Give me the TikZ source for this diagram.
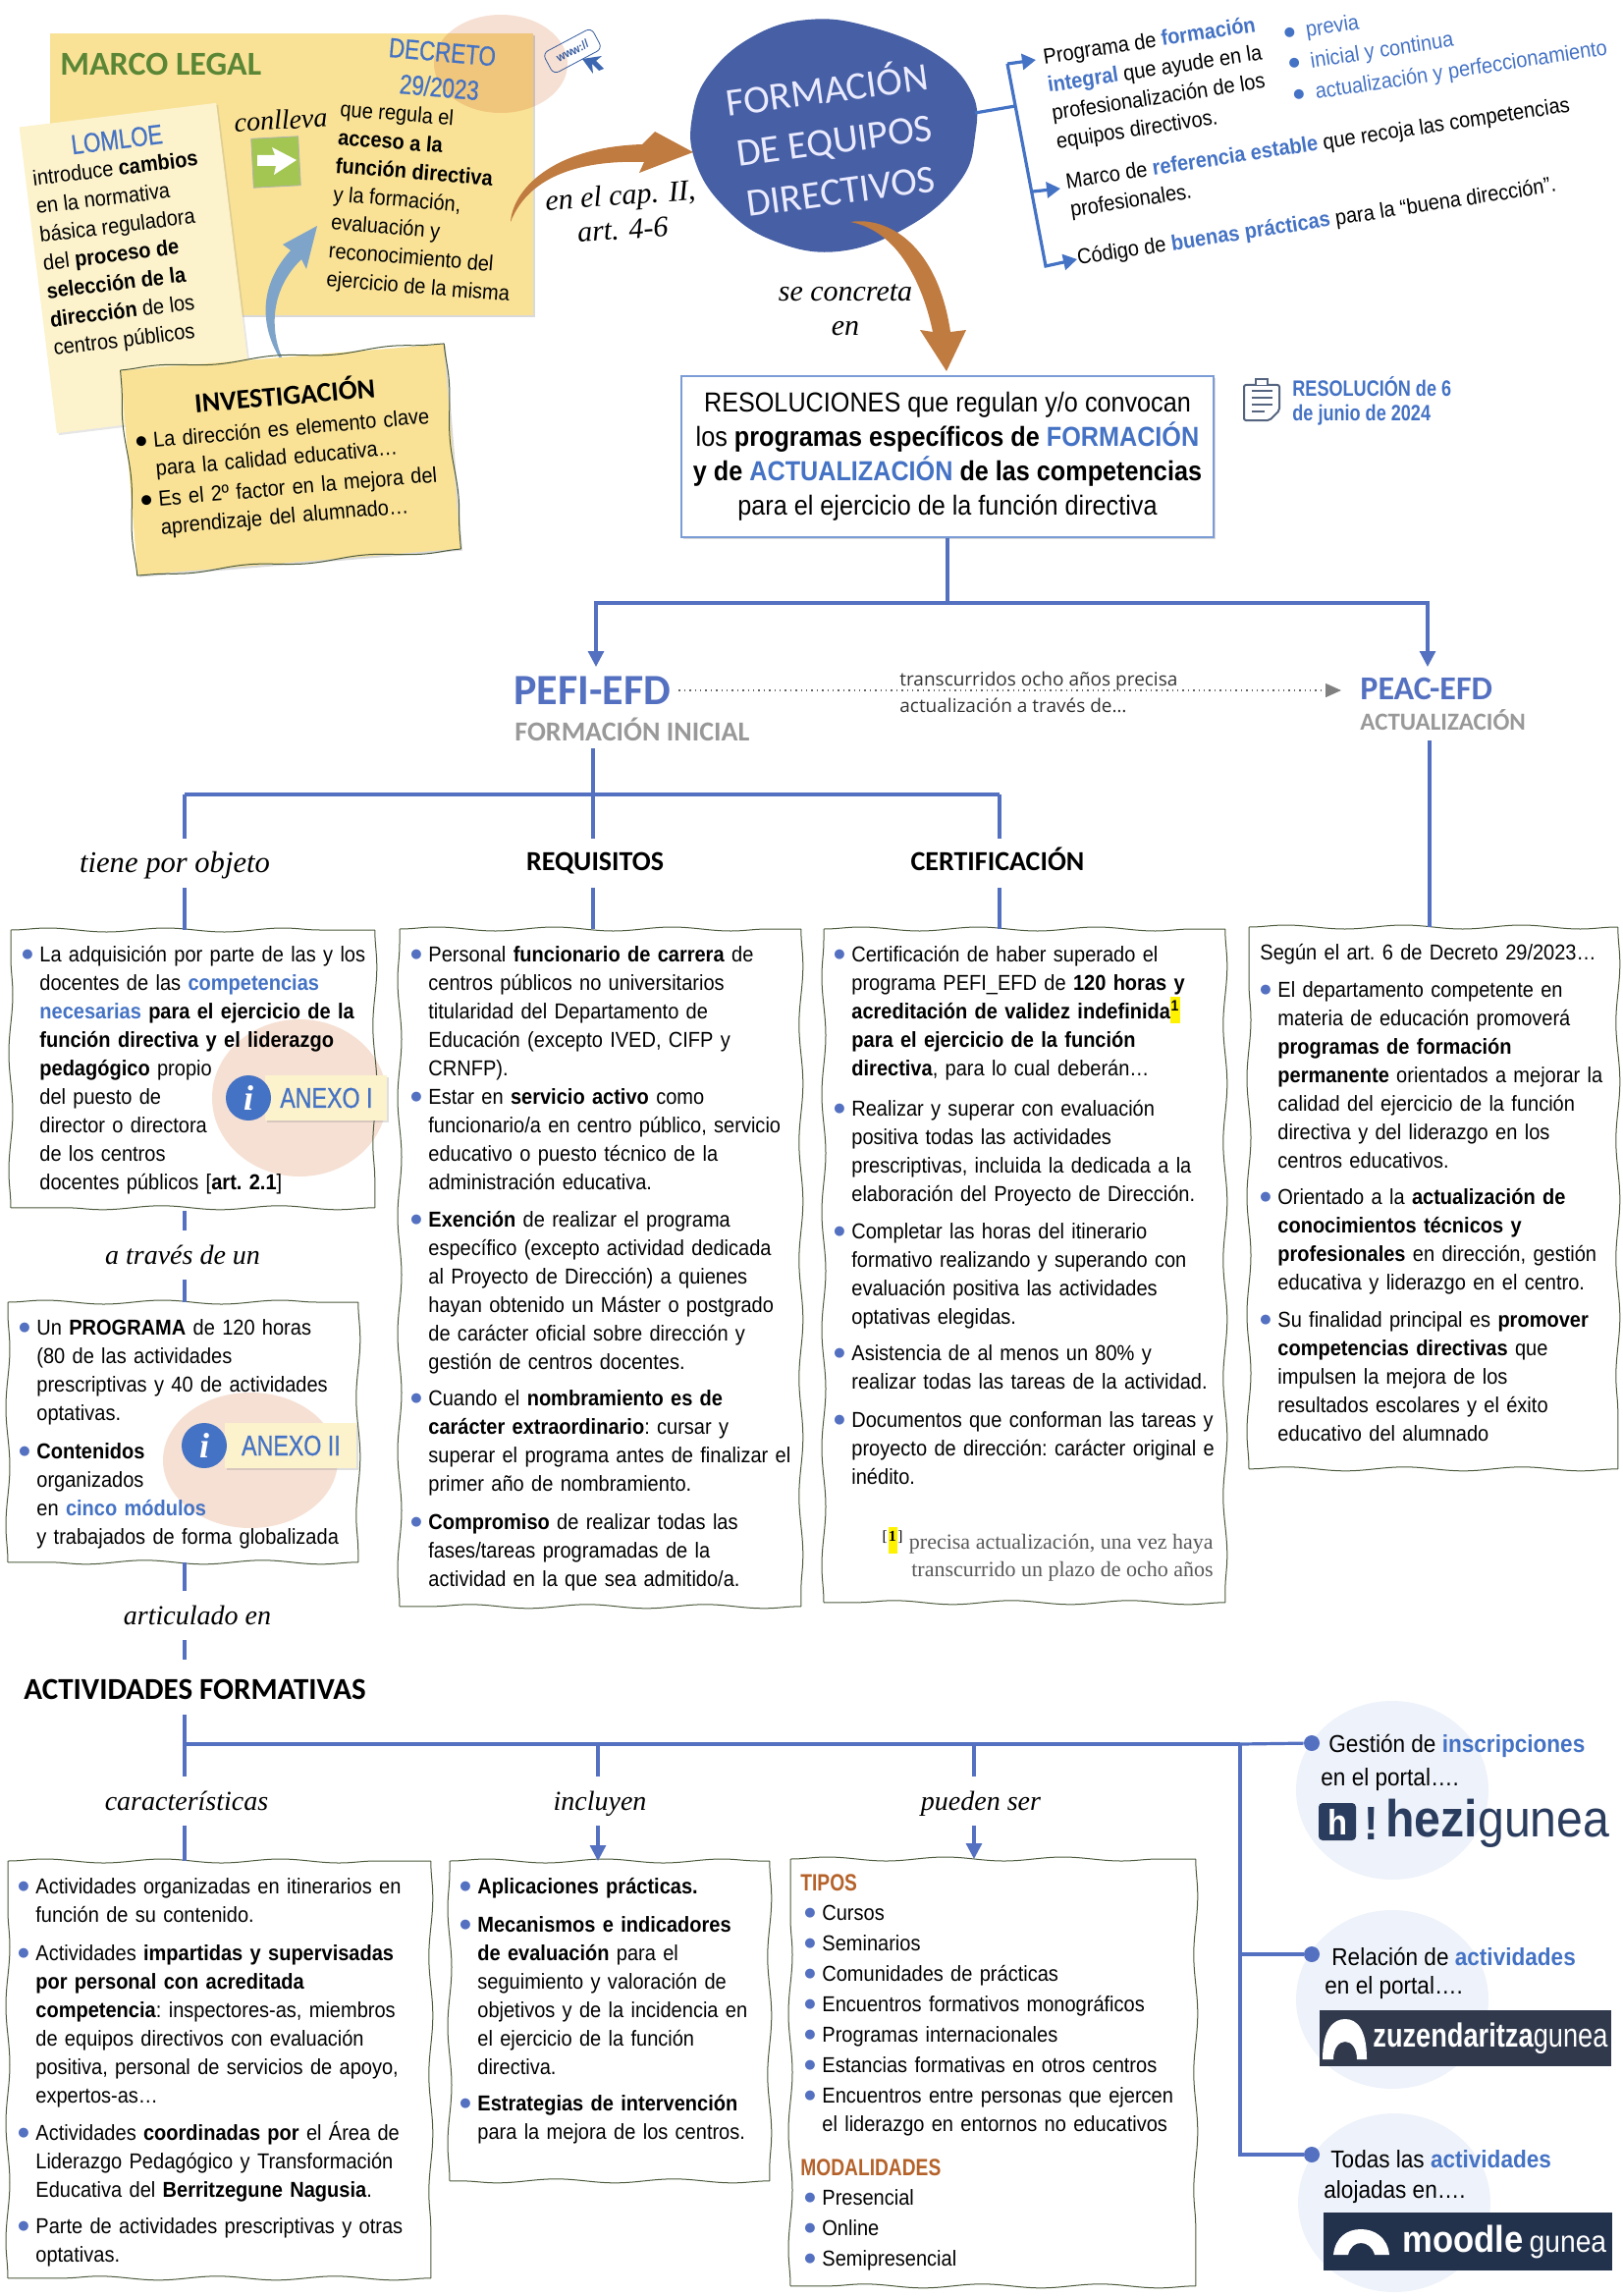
\documentclass[tikz,border=0pt]{standalone}
\usepackage{fontspec}
\setmainfont[FakeStretch=0.91]{Liberation Sans}
\newfontfamily\narrowfont[FakeStretch=0.8]{Liberation Sans}
\newfontfamily\medfont[FakeStretch=0.8,FakeBold=0.6]{Liberation Sans}
\newfontfamily\resolfont[FakeStretch=0.9]{Liberation Sans}
\newfontfamily\timesfont{Liberation Serif}
\newfontfamily\headfont{Carlito}
\newfontfamily\opensans{Open Sans}
\newfontfamily\dejavufont{DejaVu Sans}
\usetikzlibrary{arrows.meta,positioning,shadows,decorations.pathmorphing,calc}

\definecolor{lineblue}{HTML}{5470C0}
\definecolor{hlblue}{HTML}{4472C4}
\definecolor{blobblue}{HTML}{465FA5}
\definecolor{boxline}{HTML}{4C5A3C}
\definecolor{paper}{HTML}{F9E296}
\definecolor{paperpale}{HTML}{FCF2CC}
\definecolor{salmon}{HTML}{F6E0D3}
\definecolor{swooshbrown}{HTML}{C07B40}
\definecolor{swooshblue}{HTML}{7FA4C9}
\definecolor{headbrown}{HTML}{B5622A}
\definecolor{marcogreen}{HTML}{5B8636}
\definecolor{haze}{HTML}{EEF2FA}
\definecolor{navy}{HTML}{2B3D5F}
\colorlet{bulcol}{lineblue}

\newlength{\bulw}
\setlength{\bulw}{9pt}
\newcommand{\bodyfont}{\fontsize{11}{14.5}\selectfont\frenchspacing}
\newcommand{\hlb}[1]{\textcolor{hlblue}{\textbf{#1}}}
\newcommand{\blt}{\raisebox{2pt}{\dejavufont\fontsize{6.5}{6.5}\selectfont ●}}
\newcommand{\bul}[1][0pt]{\par\vspace{#1}\let\\\newline\hangindent=\bulw\hangafter=1\noindent\hbox to\bulw{\textcolor{bulcol}{\blt}\hfil}\strut\ignorespaces}
\newcommand{\hlsup}[1]{{\fboxsep=0.2pt\colorbox{yellow}{\rule[-2pt]{0pt}{13pt}\textsuperscript{\textbf{#1}}}}}
\newcommand{\wavyframe}[1]{\draw[wavyline] decorate {(#1.north west) -- (#1.north east)} decorate {(#1.north east) -- (#1.south east)} decorate {(#1.south east) -- (#1.south west)} decorate {(#1.south west) -- (#1.north west)};}

\tikzset{
  wavyline/.style={draw=boxline, line width=0.5pt, line join=round, decoration={snake, segment length=60pt, amplitude=1pt}},
  wavybox/.style={anchor=north west, inner sep=0pt},
  listtext/.style={anchor=north west, inner sep=0pt, align=left, text width=212pt, font=\bodyfont},
  plaintext/.style={inner sep=0pt, align=left, font=\bodyfont},
  linklabel/.style={inner sep=0pt, minimum height=25pt, text height=12pt, text depth=3pt, font=\timesfont\itshape\fontsize{14}{16}\selectfont},
  freelabel/.style={inner sep=0pt, align=center, font=\timesfont\itshape\fontsize{15}{17.5}\selectfont},
  secthead/.style={inner sep=0pt, minimum height=25pt, text height=10.5pt, text depth=3pt, font=\headfont\bfseries\fontsize{14}{15}\selectfont},
  bluelink/.style={draw=lineblue, line width=1.6pt},
  bluearrow/.style={bluelink, -{Triangle[width=8pt,length=8pt]}},
  forklink/.style={draw=hlblue, line width=1.6pt},
  forkarrow/.style={forklink, -{Triangle[width=8pt,length=7pt]}},
  anexotag/.style={fill=paperpale, inner sep=0pt, minimum height=23pt, drop shadow={opacity=0.25, shadow xshift=1pt, shadow yshift=-1pt}, text=hlblue, font=\medfont\fontsize{14.5}{16}\selectfont},
  infoicon/.style={circle, fill=hlblue, inner sep=0pt, minimum size=23pt, text=white, font=\timesfont\bfseries\itshape\fontsize{18}{18}\selectfont},
  portaltext/.style={plaintext, anchor=west, font=\fontsize{12.4}{15}\selectfont},
  endpoint/.style={circle, fill=lineblue, inner sep=0pt, minimum size=8pt}
}

\begin{document}
\begin{tikzpicture}[x=0.5pt,y=-0.5pt]
  \useasboundingbox (0,0) rectangle (1653,2338);

  % marco legal
  \node[fill=paper, anchor=north west, minimum width=246pt, minimum height=143.5pt, inner sep=0pt, drop shadow={opacity=0.3, shadow xshift=1pt, shadow yshift=-1pt}] (marco) at (51,34) {};
  \fill[salmon, blend mode=multiply] (510,65) ellipse (68 and 50);
  \node[anchor=west, inner sep=0pt, text=marcogreen, font=\headfont\bfseries\fontsize{17}{20}\selectfont] (marcotitle) at (61,65) {MARCO LEGAL};
  \node[rotate=-5, align=center, inner sep=0pt, text=hlblue, font=\medfont\fontsize{14}{16}\selectfont] (decreto) at (449,71) {DECRETO\\[2pt]29/2023};
  \node[rotate=28, draw=hlblue!80!black, rounded corners=3pt, inner sep=1pt, minimum width=28pt, minimum height=12pt, text=hlblue!80!black, font=\bfseries\fontsize{6}{7}\selectfont] (www) at (583,52) {www://};
  \fill[hlblue!90!black] (593,60) -- (613,57) -- (607,62) -- (615,70) -- (610,72) -- (603,65) -- (604,75) -- cycle;

  \node[rotate=3, fill=green!30!yellow!50!gray!90, draw=gray!60, minimum width=24pt, minimum height=25pt, inner sep=0pt] (nexticon) at (281,165) {};
  \fill[white] (262,158) -- (280,158) -- (277,150) -- (302,163) -- (279,178) -- (281,169) -- (262,169) -- cycle;
  \node[rotate=3, freelabel, font=\timesfont\itshape\fontsize{14}{16}\selectfont] (conlleva) at (286,122) {conlleva};
  \node[rotate=-4.6, anchor=north west, plaintext] (regula) at (347,102) {que regula el\\\textbf{acceso a la}\\\textbf{función directiva}\\y la formación,\\evaluación y\\reconocimiento del\\ejercicio de la misma};

  % lomloe
  \node[rotate=7, fill=paperpale, minimum width=101pt, minimum height=157pt, inner sep=0pt, drop shadow={opacity=0.2, shadow xshift=1pt, shadow yshift=-1pt}] (lomloe) at (139,273) {};
  \node[rotate=7, inner sep=0pt, text=hlblue, font=\medfont\fontsize{14}{16}\selectfont] (lomloetitle) at (119,142) {LOMLOE};
  \node[rotate=7, anchor=north west, plaintext] (lomloetext) at (32,173) {introduce \textbf{cambios}\\en la normativa\\básica reguladora\\del \textbf{proceso de}\\\textbf{selección de la}\\\textbf{dirección} de los\\centros públicos};

  \fill[swooshblue] (296,380) .. controls (270,350) and (255,300) .. (296,255) -- (288,249) -- (323,230) -- (312,274) -- (307,264) .. controls (270,300) and (275,350) .. (296,380) -- cycle;

  % investigacion
  \node[rotate=4.7, fill=paper, minimum width=165pt, minimum height=104.5pt, inner sep=0pt, drop shadow={opacity=0.3, shadow xshift=1pt, shadow yshift=-1pt}] (invsheet) at (296,468) {};
  \wavyframe{invsheet}
  \node[rotate=5, inner sep=0pt, font=\headfont\bfseries\fontsize{14}{15}\selectfont] (invtitle) at (290,401) {INVESTIGACIÓN};
  \node[rotate=5, listtext] (invtext) at (136,428) {\colorlet{bulcol}{black}\bul La dirección es elemento clave\\para la calidad educativa…\bul[1pt] Es el 2º factor en la mejora del\\aprendizaje del alumnado…\par};

  % formacion de equipos directivos
  \fill[blobblue] plot[smooth cycle, tension=0.7] coordinates {(823,20) (885,27) (953,55) (990,95) (993,139) (978,184) (928,229) (854,256) (785,244) (736,209) (708,164) (705,119) (723,75) (767,37)};
  \node[rotate=7.7, align=center, inner sep=0pt, text=blue!8!white, font=\headfont\fontsize{20}{26}\selectfont] (blobtext) at (849,140) {FORMACIÓN\\DE EQUIPOS\\DIRECTIVOS};

  \fill[swooshbrown] (520,226) .. controls (522,195) and (560,150) .. (654,147) -- (667,134) -- (706,155) -- (651,176) -- (656,165) .. controls (600,163) and (540,175) .. (520,226) -- cycle;
  \fill[swooshbrown] (866,226) .. controls (905,220) and (955,250) .. (968,338) -- (984,336) -- (964,378) -- (937,336) -- (950,338) .. controls (940,290) and (915,235) .. (866,226) -- cycle;
  \node[rotate=4, freelabel] (encap) at (633,216) {en el cap. II,\\art. 4-6};
  \node[freelabel] (concreta) at (861,316) {se concreta\\en};

  % objetivos
  \coordinate (blobright) at (993,115);
  \coordinate (forkmid) at (1034,108);
  \coordinate (forktop) at (1026,65);
  \coordinate (forktip) at (1055,61);
  \coordinate (forkend) at (1065,271);
  \coordinate (forkpoint) at (1052,195);
  \coordinate (forkpointtip) at (1080,192);
  \node[rotate=8.7, anchor=north west, plaintext] (progtext) at (1061,49) {Programa de \hlb{formación}\\\hlb{integral} que ayude en la\\profesionalización de los\\equipos directivos.};
  \node[rotate=8.7, anchor=north west, plaintext, text=hlblue, font=\fontsize{11}{16}\selectfont] (progbul) at (1306,25) {\blt\ \ previa\\\blt\ \ inicial y continua\\\blt\ \ actualización y perfeccionamiento};
  \node[rotate=8.7, anchor=north west, plaintext] (marcotext) at (1084,176) {Marco de \hlb{referencia estable} que recoja las competencias\\profesionales.};
  \node[rotate=8.7, anchor=west, plaintext] (codigotext) at (1097,264) {Código de \hlb{buenas prácticas} para la “buena dirección”.};
  \draw[forklink] (blobright) -- (forkmid);
  \draw[forkarrow] (forktop) -- (forktip);
  \draw[forkarrow] (forktop) -- (forkend) -- (codigotext.west);
  \draw[forkarrow] (forkpoint) -- (forkpointtip);

  % resoluciones
  \node[draw=hlblue!70, fill=white, line width=0.7pt, minimum width=271pt, minimum height=82pt, inner sep=0pt, align=center, font=\resolfont\fontsize{14}{17.5}\selectfont, drop shadow={opacity=0.3, shadow xshift=1pt, shadow yshift=-1pt}] (resol) at (965,465) {RESOLUCIONES que regulan y/o convocan\\los \textbf{programas específicos de} \hlb{FORMACIÓN}\\\textbf{y de} \hlb{ACTUALIZACIÓN} \textbf{de las competencias}\\para el ejercicio de la función directiva};
  \draw[navy!80, line width=1pt, fill=white, rounded corners=1pt] (1267,392) -- (1303,392) -- (1303,418) -- (1293,428) -- (1267,428) -- cycle;
  \draw[navy!80, line width=1pt] (1275,398) -- (1296,398) (1275,405) -- (1296,405) (1275,412) -- (1296,412) (1275,419) -- (1288,419);
  \draw[navy!80, line width=1pt, fill=white] (1279,392) -- (1279,386) -- (1291,386) -- (1291,392);
  \node[anchor=west, align=left, inner sep=0pt, text=hlblue, font=\narrowfont\bfseries\fontsize{11.3}{12.5}\selectfont] (resol2024) at (1316,408) {RESOLUCIÓN de 6\\de junio de 2024};

  % pefi y peac
  \node[anchor=west, inner sep=0pt, text=lineblue, font=\headfont\bfseries\fontsize{22}{24}\selectfont] (pefi) at (523,703) {PEFI-EFD};
  \node[anchor=west, inner sep=0pt, text=black!40, font=\headfont\bfseries\fontsize{14}{16}\selectfont] (pefisub) at (524,743) {FORMACIÓN INICIAL};
  \node[anchor=west, inner sep=0pt, text=lineblue, font=\headfont\bfseries\fontsize{17}{19}\selectfont] (peac) at (1385,701) {PEAC-EFD};
  \node[anchor=west, inner sep=0pt, text=black!40, font=\headfont\bfseries\fontsize{12.5}{15}\selectfont] (peacsub) at (1385,733) {ACTUALIZACIÓN};
  \coordinate (resolsplit) at (965,614);
  \coordinate (pefitop) at (607,679);
  \coordinate (peactop) at (1454,679);
  \draw[bluelink] (resol.south) -- (resolsplit);
  \draw[bluearrow] (resolsplit) -| (pefitop);
  \draw[bluearrow] (resolsplit) -| (peactop);
  \draw[dotted, black!60, line width=0.7pt, shorten <=4pt, shorten >=9.5pt, -{Triangle[width=7pt,length=8pt,gray]}] (pefi.east) -- (pefi.east -| peac.west);
  \node[anchor=north west, inner sep=0pt, align=left, text=black!80, font=\opensans\fontsize{9.5}{13.5}\selectfont] (transc) at (916,684) {transcurridos ocho años precisa\\actualización a través de…};

  % ramas de pefi
  \coordinate (pefidown) at (604,762);
  \coordinate (pefisplit) at (604,809);
  \coordinate (stemobj) at (188,809);
  \coordinate (stemcert) at (1018,809);
  \coordinate (stempeac) at (1456,754);
  \node[linklabel, font=\timesfont\itshape\fontsize{15.3}{16}\selectfont] (objlabel) at (178,879) {tiene por objeto};
  \node[secthead] (reqlabel) at (606,879) {REQUISITOS};
  \node[secthead] (certlabel) at (1016,879) {CERTIFICACIÓN};

  % cajas de pefi
  \node[wavybox, minimum width=185pt, minimum height=141pt] (objbox) at (11,947) {};
  \fill[salmon, blend mode=multiply] (305,1118) ellipse (89 and 80);
  \wavyframe{objbox}
  \node[listtext] (objtext) at (22,950) {\bul La adquisición por parte de las y los\\docentes de las \hlb{competencias}\\\hlb{necesarias} \textbf{para el ejercicio de la}\\\textbf{función directiva y el liderazgo}\\\textbf{pedagógico} propio\\del puesto de\\director o directora\\de los centros\\docentes públicos [\textbf{art. 2.1}]\par};
  \node[anexotag, minimum width=62pt, anchor=west] (anexoi) at (270,1118) {ANEXO I\hspace{9.5pt}};
  \node[infoicon] (infoi) at (253,1118) {i};

  \node[linklabel] (vialabel) at (186,1278) {a través de un};
  \node[wavybox, minimum width=178pt, minimum height=132pt] (progbox) at (8,1326) {};
  \fill[salmon, blend mode=multiply] (255,1487) ellipse (89 and 69);
  \wavyframe{progbox}
  \node[listtext] (progbtext) at (19,1330) {\bul Un \textbf{PROGRAMA} de 120 horas\\(80 de las actividades\\prescriptivas y 40 de actividades\\optativas.\bul[5pt] \textbf{Contenidos}\\organizados\\en \hlb{cinco módulos}\\y trabajados de forma globalizada\par};
  \node[anexotag, minimum width=67pt, anchor=west] (anexoii) at (229,1472) {ANEXO II\hspace{6pt}};
  \node[infoicon] (infoii) at (208,1472) {i};
  \node[linklabel] (artlabel) at (201,1645) {articulado en};

  \node[wavybox, minimum width=204pt, minimum height=344.5pt] (reqbox) at (407,946) {};
  \wavyframe{reqbox}
  \node[listtext] (reqtext) at (418,950) {\bul Personal \textbf{funcionario de carrera} de\\centros públicos no universitarios\\titularidad del Departamento de\\Educación (excepto IVED, CIFP y\\CRNFP).\bul[0pt] Estar en \textbf{servicio activo} como\\funcionario/a en centro público, servicio\\educativo o puesto técnico de la\\administración educativa.\bul[4.7pt] \textbf{Exención} de realizar el programa\\específico (excepto actividad dedicada\\al Proyecto de Dirección) a quienes\\hayan obtenido un Máster o postgrado\\de carácter oficial sobre dirección y\\gestión de centros docentes.\bul[3.6pt] Cuando el \textbf{nombramiento es de}\\\textbf{carácter extraordinario}: cursar y\\superar el programa antes de finalizar el\\primer año de nombramiento.\bul[5pt] \textbf{Compromiso} de realizar todas las\\fases/tareas programadas de la\\actividad en la que sea admitido/a.\par};

  \node[wavybox, minimum width=204pt, minimum height=342.5pt] (certbox) at (839,946) {};
  \wavyframe{certbox}
  \node[listtext] (certtext) at (849,950) {\bul Certificación de haber superado el\\programa PEFI\_EFD de \textbf{120 horas y}\\\textbf{acreditación de validez indefinida}\hlsup{1}\\\textbf{para el ejercicio de la función}\\\textbf{directiva}, para lo cual deberán…\bul[6pt] Realizar y superar con evaluación\\positiva todas las actividades\\prescriptivas, incluida la dedicada a la\\elaboración del Proyecto de Dirección.\bul[4.5pt] Completar las horas del itinerario\\formativo realizando y superando con\\evaluación positiva las actividades\\optativas elegidas.\bul[4.2pt] Asistencia de al menos un 80\% y\\realizar todas las tareas de la actividad.\bul[5pt] Documentos que conforman las tareas y\\proyecto de dirección: carácter original e\\inédito.\par};
  \node[anchor=east, align=right, inner sep=0pt, text=black!65, font=\timesfont\fontsize{11}{14}\selectfont] (certnote) at (1236,1583) {\textcolor{black}{\textsuperscript{[}\hlsup{1}\textsuperscript{]}} precisa actualización, una vez haya\\transcurrido un plazo de ocho años};

  \node[wavybox, minimum width=187.5pt, minimum height=275.5pt] (peacbox) at (1272,944) {};
  \wavyframe{peacbox}
  \node[listtext] (peactext) at (1283,956.5) {\bodyfont\strut Según el art. 6 de Decreto 29/2023…\bul[4.5pt] El departamento competente en\\materia de educación promoverá\\\textbf{programas de formación}\\\textbf{permanente} orientados a mejorar la\\calidad del ejercicio de la función\\directiva y del liderazgo en los\\centros educativos.\bul[4pt] Orientado a la \textbf{actualización de}\\\textbf{conocimientos técnicos y}\\\textbf{profesionales} en dirección, gestión\\educativa y liderazgo en el centro.\bul[4.8pt] Su finalidad principal es \textbf{promover}\\\textbf{competencias directivas} que\\impulsen la mejora de los\\resultados escolares y el éxito\\educativo del alumnado\par};

  \draw[bluelink] (pefidown) -- (pefisplit);
  \draw[bluelink] (stemobj) -- (stemcert);
  \draw[bluelink] (stemobj) -- (stemobj |- objlabel.north);
  \draw[bluelink] (pefisplit) -- (pefisplit |- reqlabel.north);
  \draw[bluelink] (stemcert) -- (stemcert |- certlabel.north);
  \draw[bluelink] (stemobj |- objlabel.south) -- (stemobj |- objbox.north);
  \draw[bluelink] (pefisplit |- reqlabel.south) -- (pefisplit |- reqbox.north);
  \draw[bluelink] (stemcert |- certlabel.south) -- (stemcert |- certbox.north);
  \draw[bluelink] (stempeac) -- (stempeac |- peacbox.north);
  \draw[bluelink] (stemobj |- objbox.south) ++(0,3) -- (stemobj |- vialabel.north);
  \draw[bluelink] (stemobj |- vialabel.south) -- (stemobj |- progbox.north);
  \draw[bluelink] (stemobj |- progbox.south) -- (stemobj |- artlabel.north);

  % actividades formativas
  \node[anchor=west, inner sep=0pt, font=\headfont\bfseries\fontsize{15.5}{17}\selectfont] (acttitle) at (24,1720) {ACTIVIDADES FORMATIVAS};
  \coordinate (actstem) at (188,1746);
  \coordinate (actsplit) at (188,1776);
  \coordinate (stemincl) at (609,1776);
  \coordinate (stempued) at (992,1776);
  \coordinate (stemportal) at (1263,1776);
  \node[linklabel] (carlabel) at (190,1834) {características};
  \node[linklabel] (incllabel) at (611,1834) {incluyen};
  \node[linklabel] (puedlabel) at (999,1834) {pueden ser};

  \node[wavybox, minimum width=215pt, minimum height=212pt] (carbox) at (8,1895) {};
  \wavyframe{carbox}
  \node[listtext, text width=220pt] (cartext) at (18,1899) {\bul Actividades organizadas en itinerarios en\\función de su contenido.\bul[5pt] Actividades \textbf{impartidas y supervisadas}\\\textbf{por personal con acreditada}\\\textbf{competencia}: inspectores-as, miembros\\de equipos directivos con evaluación\\positiva, personal de servicios de apoyo,\\expertos-as…\bul[4.3pt] Actividades \textbf{coordinadas por} el Área de\\Liderazgo Pedagógico y Transformación\\Educativa del \textbf{Berritzegune Nagusia}.\bul[4.3pt] Parte de actividades prescriptivas y otras\\optativas.\par};

  \node[wavybox, minimum width=162.5pt, minimum height=162.5pt] (inclbox) at (458,1895) {};
  \wavyframe{inclbox}
  \node[listtext] (incltext) at (468,1899) {\bul \textbf{Aplicaciones prácticas.}\bul[5pt] \textbf{Mecanismos e indicadores}\\\textbf{de evaluación} para el\\seguimiento y valoración de\\objetivos y de la incidencia en\\el ejercicio de la función\\directiva.\bul[4.2pt] \textbf{Estrategias de intervención}\\para la mejora de los centros.\par};

  \node[wavybox, minimum width=206pt, minimum height=217pt] (puedbox) at (805,1893) {};
  \wavyframe{puedbox}
  \node[listtext] (puedtext) at (815,1905) {\strut\textcolor{headbrown}{\narrowfont\bfseries\fontsize{12}{14.5}\selectfont TIPOS}\par\vspace{0.5pt}\leftskip=2pt\bul Cursos\bul[1pt] Seminarios\bul[1pt] Comunidades de prácticas\bul[1pt] Encuentros formativos monográficos\bul[1pt] Programas internacionales\bul[1pt] Estancias formativas en otros centros\bul[1pt] Encuentros entre personas que ejercen\\el liderazgo en entornos no educativos\par\leftskip=0pt\vspace{8pt}\noindent\strut\textcolor{headbrown}{\narrowfont\bfseries\fontsize{12}{14.5}\selectfont MODALIDADES}\par\vspace{0.5pt}\leftskip=2pt\bul Presencial\bul[1pt] Online\bul[1pt] Semipresencial\par};

  \draw[bluelink] (actstem) -- (actstem |- carlabel.north);
  \draw[bluelink] (actstem |- artlabel.south) -- ++(0,20);
  \draw[bluelink] (actsplit) -- (stemportal);
  \draw[bluelink] (stemincl) -- (stemincl |- incllabel.north);
  \draw[bluelink] (stempued) -- (stempued |- puedlabel.north);
  \draw[bluelink] (actstem |- carlabel.south) -- (actstem |- carbox.north);
  \draw[bluearrow] (stemincl |- incllabel.south) -- (stemincl |- inclbox.north);
  \draw[bluearrow] (stempued |- puedlabel.south) -- (stempued |- puedbox.north);

  % portales
  \fill[haze] (1418,1823) ellipse (98 and 91);
  \fill[haze] (1418,2036) ellipse (98 and 91);
  \fill[haze] (1420,2243) ellipse (98 and 91);
  \node[endpoint] (dotges) at (1336,1775) {};
  \node[endpoint] (dotrel) at (1336,1990) {};
  \node[endpoint] (dotall) at (1336,2194) {};
  \coordinate (portaldown) at (1263,2194);
  \draw[bluelink] (stemportal) -- (dotges);
  \draw[bluelink] (stemportal) -- (portaldown) -- (dotall);
  \draw[bluelink] (stemportal |- dotrel) -- (dotrel);

  \node[portaltext] (gestext) at (1353,1778) {Gestión de \hlb{inscripciones}};
  \node[portaltext] (gesportal) at (1345,1812) {en el portal….};
  \node[rounded corners=2pt, fill=navy, minimum size=19pt, inner sep=0pt, text=white, font=\bfseries\fontsize{18}{18}\selectfont] (hlogo) at (1362,1855) {h};
  \node[anchor=west, inner sep=0pt, text=navy, font=\bfseries\fontsize{24}{26}\selectfont] (hbang) at (1389,1857) {!};
  \node[anchor=west, inner sep=0pt, text=navy, font=\fontsize{26.5}{28}\selectfont] (hzname) at (1411,1857) {\textbf{hezi}gunea};

  \node[portaltext] (reltext) at (1356,1992) {Relación de \hlb{actividades}};
  \node[portaltext] (relportal) at (1349,2024) {en el portal….};
  \node[fill=navy!60!black!90, anchor=north west, minimum width=148.5pt, minimum height=28.5pt, inner sep=0pt] (zuzlogo) at (1344,2047) {};
  \fill[white] (1347,2097) .. controls (1347,2066) and (1358,2056) .. (1370,2056) .. controls (1382,2056) and (1392,2066) .. (1392,2097) -- (1382,2097) .. controls (1382,2085) and (1376,2079) .. (1370,2079) .. controls (1364,2079) and (1358,2085) .. (1358,2097) -- cycle;
  \node[anchor=west, inner sep=0pt, text=white, font=\narrowfont\fontsize{17}{18}\selectfont] (zuzname) at (1398,2076) {\textbf{zuzendaritza}gunea};

  \node[portaltext] (alltext) at (1355,2199) {Todas las \hlb{actividades}};
  \node[portaltext] (allportal) at (1348,2232) {alojadas en….};
  \node[fill=navy!80!black, anchor=north west, minimum width=147pt, minimum height=29.5pt, inner sep=0pt] (moolog) at (1348,2253) {};
  \fill[white] (1358,2296) .. controls (1360,2278) and (1372,2270) .. (1386,2270) .. controls (1400,2270) and (1413,2278) .. (1415,2296) -- (1400,2296) .. controls (1398,2288) and (1392,2284) .. (1386,2284) .. controls (1380,2284) and (1375,2288) .. (1373,2296) -- cycle;
  \node[anchor=west, inner sep=0pt, text=white, font=\fontsize{19}{21}\selectfont] (mooname) at (1428,2283) {\textbf{moodle}\,{\fontsize{15.5}{17}\selectfont gunea}};
\end{tikzpicture}
\end{document}
